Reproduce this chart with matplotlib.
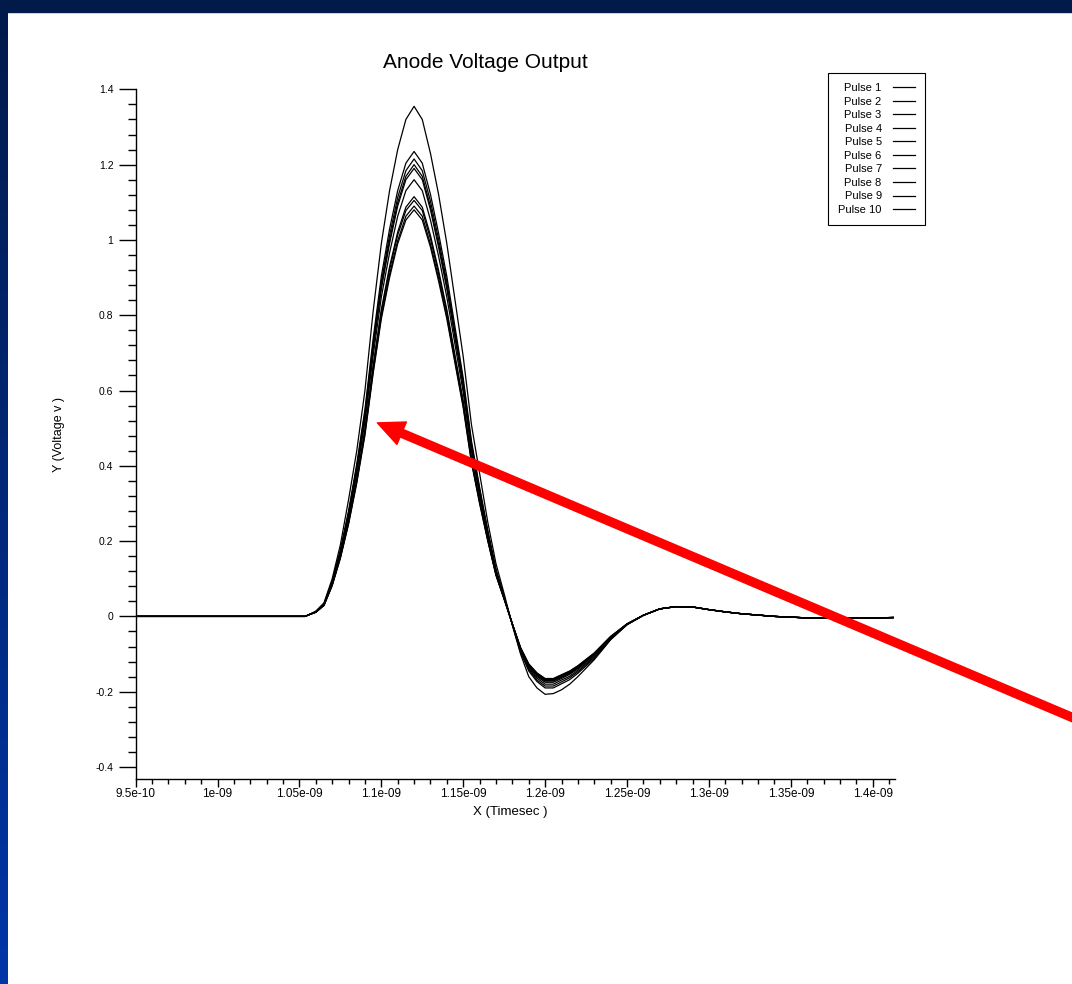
import numpy as np
import matplotlib.pyplot as plt
from matplotlib.patches import Rectangle
from matplotlib.colors import LinearSegmentedColormap

plt.rcParams['font.family'] = ['Liberation Sans', 'DejaVu Sans']

# Time points in ns (scaled to seconds when plotted)
lead_t = [0.95, 1.00, 1.05, 1.0535]
body_t = [1.055, 1.06, 1.065, 1.07, 1.075, 1.08, 1.085, 1.09, 1.095, 1.10,
          1.105, 1.11, 1.115, 1.12, 1.125, 1.13, 1.135, 1.14, 1.145, 1.15,
          1.155, 1.16, 1.165, 1.17, 1.175,
          1.18, 1.185, 1.19, 1.195, 1.20, 1.205, 1.21, 1.215, 1.22, 1.23,
          1.24, 1.25]
tail_t = [1.26, 1.27, 1.28, 1.29, 1.30, 1.31, 1.32, 1.34, 1.36, 1.38, 1.40, 1.4125]

# flat start and ringing tail are the same for every pulse
lead_v = [0, 0, 0, 0]
tail_v = [0.003, 0.02, 0.026, 0.025, 0.018, 0.012, 0.007, 0.0, -0.004, -0.005, -0.004, -0.003]

# anode voltage (V) for each pulse over body_t
pulse1 = [0.003, 0.014, 0.036, 0.10, 0.19, 0.31, 0.44, 0.60, 0.81, 0.99,
          1.13, 1.24, 1.32, 1.355, 1.32, 1.23, 1.12, 0.99, 0.84, 0.69,
          0.51, 0.38, 0.25, 0.14, 0.06,
          -0.024, -0.10, -0.16, -0.19, -0.207, -0.205, -0.195, -0.18, -0.16, -0.115,
          -0.062, -0.022]
pulse2 = [0.003, 0.012, 0.033, 0.093, 0.176, 0.28, 0.405, 0.55, 0.737, 0.903,
          1.028, 1.131, 1.204, 1.235, 1.204, 1.121, 1.017, 0.903, 0.768, 0.633,
          0.467, 0.343, 0.228, 0.125, 0.052,
          -0.022, -0.095, -0.145, -0.173, -0.19, -0.19, -0.179, -0.168, -0.151, -0.112,
          -0.061, -0.022]
pulse3 = [0.003, 0.012, 0.033, 0.092, 0.174, 0.276, 0.398, 0.541, 0.725, 0.888,
          1.011, 1.113, 1.184, 1.215, 1.184, 1.103, 1.001, 0.888, 0.756, 0.623,
          0.459, 0.337, 0.225, 0.123, 0.051,
          -0.022, -0.092, -0.141, -0.169, -0.185, -0.185, -0.174, -0.163, -0.147, -0.109,
          -0.06, -0.022]
pulse4 = [0.003, 0.012, 0.032, 0.091, 0.171, 0.272, 0.393, 0.534, 0.716, 0.877,
          0.998, 1.099, 1.169, 1.20, 1.169, 1.089, 0.988, 0.877, 0.746, 0.615,
          0.454, 0.333, 0.222, 0.121, 0.05,
          -0.021, -0.09, -0.138, -0.164, -0.18, -0.18, -0.169, -0.159, -0.143, -0.106,
          -0.058, -0.021]
pulse5 = [0.003, 0.012, 0.032, 0.09, 0.17, 0.27, 0.39, 0.53, 0.71, 0.87,
          0.99, 1.09, 1.16, 1.19, 1.16, 1.08, 0.98, 0.87, 0.74, 0.61,
          0.45, 0.33, 0.22, 0.12, 0.05,
          -0.021, -0.087, -0.134, -0.16, -0.175, -0.175, -0.165, -0.154, -0.139, -0.103,
          -0.057, -0.021]
pulse6 = [0.003, 0.012, 0.031, 0.088, 0.166, 0.263, 0.38, 0.517, 0.692, 0.848,
          0.965, 1.063, 1.131, 1.16, 1.131, 1.053, 0.956, 0.848, 0.722, 0.595,
          0.439, 0.322, 0.215, 0.117, 0.049,
          -0.02, -0.086, -0.132, -0.157, -0.172, -0.172, -0.162, -0.152, -0.137, -0.101,
          -0.056, -0.02]
pulse7 = [0.003, 0.011, 0.030, 0.084, 0.159, 0.253, 0.365, 0.497, 0.665, 0.815,
          0.928, 1.021, 1.087, 1.115, 1.087, 1.012, 0.918, 0.815, 0.693, 0.572,
          0.422, 0.309, 0.206, 0.112, 0.047,
          -0.02, -0.085, -0.13, -0.155, -0.17, -0.17, -0.16, -0.15, -0.135, -0.10,
          -0.055, -0.02]
pulse8 = [0.003, 0.011, 0.030, 0.084, 0.158, 0.251, 0.362, 0.492, 0.66, 0.808,
          0.92, 1.013, 1.078, 1.105, 1.078, 1.003, 0.91, 0.808, 0.687, 0.567,
          0.418, 0.307, 0.204, 0.111, 0.046,
          -0.02, -0.084, -0.128, -0.153, -0.168, -0.168, -0.158, -0.148, -0.133, -0.099,
          -0.054, -0.02]
pulse9 = [0.003, 0.011, 0.029, 0.082, 0.156, 0.247, 0.357, 0.486, 0.65, 0.797,
          0.907, 0.998, 1.063, 1.09, 1.063, 0.989, 0.898, 0.797, 0.678, 0.559,
          0.412, 0.302, 0.202, 0.11, 0.046,
          -0.02, -0.083, -0.127, -0.151, -0.166, -0.166, -0.156, -0.146, -0.132, -0.098,
          -0.054, -0.02]
pulse10 = [0.003, 0.011, 0.029, 0.082, 0.154, 0.245, 0.354, 0.481, 0.645, 0.79,
           0.899, 0.99, 1.053, 1.08, 1.053, 0.981, 0.89, 0.79, 0.672, 0.554,
           0.409, 0.30, 0.20, 0.109, 0.045,
           -0.02, -0.083, -0.126, -0.15, -0.165, -0.165, -0.155, -0.145, -0.131, -0.097,
           -0.053, -0.02]

pulses = [pulse1, pulse2, pulse3, pulse4, pulse5,
          pulse6, pulse7, pulse8, pulse9, pulse10]
labels = ['Pulse 1', 'Pulse 2', 'Pulse 3', 'Pulse 4', 'Pulse 5',
          'Pulse 6', 'Pulse 7', 'Pulse 8', 'Pulse 9', 'Pulse 10']

xtick_vals = [0.95e-9, 1.0e-9, 1.05e-9, 1.1e-9, 1.15e-9, 1.2e-9,
              1.25e-9, 1.3e-9, 1.35e-9, 1.4e-9]
xtick_labels = ['9.5e-10', '1e-09', '1.05e-09', '1.1e-09', '1.15e-09', '1.2e-09',
                '1.25e-09', '1.3e-09', '1.35e-09', '1.4e-09']
ytick_vals = [-0.4, -0.2, 0, 0.2, 0.4, 0.6, 0.8, 1.0, 1.2, 1.4]
ytick_labels = ['-0.4', '-0.2', '0', '0.2', '0.4', '0.6', '0.8', '1', '1.2', '1.4']

##############################################################################
fig = plt.figure(figsize=(10.72, 9.84), dpi=100, facecolor='white')

# slide frame: dark band on top, blue gradient strip on the left
strip = fig.add_axes([0, 0, 8 / 1072, 1])
grad = np.linspace(0, 1, 256).reshape(-1, 1)
cmap = LinearSegmentedColormap.from_list('frame', ['#001a4a', '#0036a8'])
strip.imshow(grad, aspect='auto', cmap=cmap)
strip.axis('off')
fig.add_artist(Rectangle((0, 1 - 12 / 984), 1, 12 / 984, transform=fig.transFigure,
                         color='#001a4a', zorder=5))

ax = fig.add_axes([0.1265, 0.2083, 0.7084, 0.7009])

t_all = np.array(lead_t + body_t + tail_t) * 1e-9
for vals, lab in zip(pulses, labels):
    ax.plot(t_all, lead_v + vals + tail_v, color='black', lw=0.9, label=lab)

ax.set_xlim(0.95e-9, 1.4136e-9)
ax.set_ylim(-0.432, 1.4)

ax.spines['top'].set_visible(False)
ax.spines['right'].set_visible(False)
ax.spines['left'].set_linewidth(1.0)
ax.spines['bottom'].set_linewidth(1.0)

ax.set_xticks(xtick_vals, xtick_labels)
ax.set_yticks(ytick_vals, ytick_labels)
ax.set_xticks(np.arange(0.95e-9, 1.4136e-9, 0.01e-9), minor=True)
ax.set_yticks(np.arange(-0.4, 1.401, 0.04), minor=True)
ax.tick_params(axis='x', which='major', direction='out', length=5.5, width=1,
               labelsize=8.5, pad=1)
ax.tick_params(axis='x', which='minor', direction='out', length=3.5, width=1)
ax.tick_params(axis='y', which='major', direction='out', length=12, width=1,
               labelsize=7.5, pad=4)
ax.tick_params(axis='y', which='minor', direction='out', length=6, width=1)

ax.set_xlabel('X (Timesec )', fontsize=9.5)
ax.xaxis.set_label_coords(0.493, -0.039)
ax.set_ylabel('Y (Voltage v )', fontsize=9)
ax.yaxis.set_label_coords(-0.093, 0.5)

fig.text(485 / 1072, 1 - 63 / 984, 'Anode Voltage Output', ha='center', va='center',
         fontsize=15)

leg = ax.legend(loc='upper right', bbox_to_anchor=(925 / 1072, 1 - 73 / 984),
                bbox_transform=fig.transFigure, markerfirst=False, fontsize=8,
                fancybox=False, edgecolor='black', framealpha=1, handlelength=2.0,
                handletextpad=1.0, labelspacing=0.32, borderpad=0.9, borderaxespad=0)
leg.get_frame().set_linewidth(0.8)

# red pointer arrow laid over the plot
ax.annotate('', xy=(1.0976e-9, 0.514), xycoords='data',
            xytext=(1090, 259), textcoords='figure pixels',
            arrowprops=dict(arrowstyle='simple,head_length=1.9,head_width=1.75,tail_width=0.58',
                            color='red', shrinkA=0, shrinkB=0, mutation_scale=10),
            annotation_clip=False, zorder=10)

plt.savefig('out.png', dpi=100)
plt.close()
